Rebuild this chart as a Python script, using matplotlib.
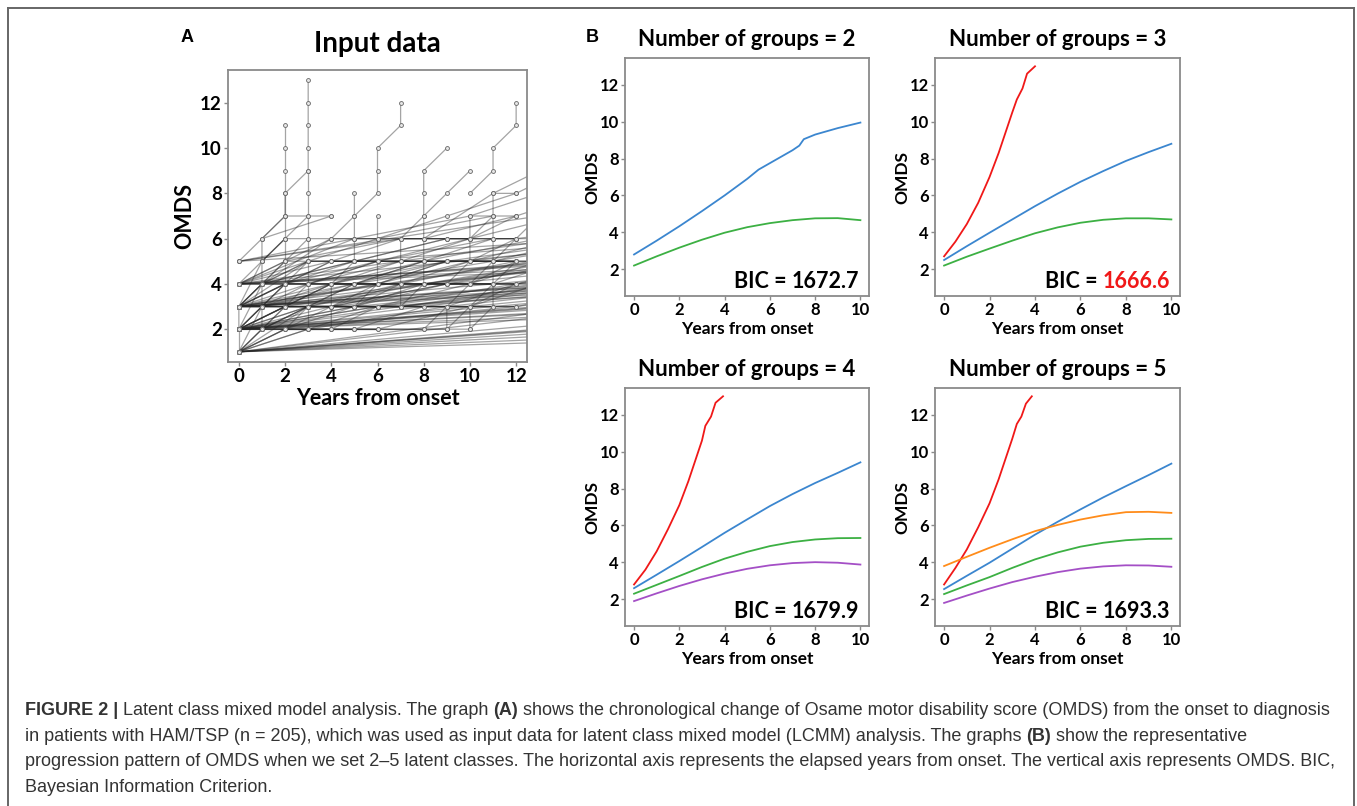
"""
Latent class mixed model figure: input OMDS trajectories (A) and group solutions (B).
"""
import matplotlib

matplotlib.use("Agg")
import matplotlib.pyplot as plt
from matplotlib.lines import Line2D

plt.rcParams["font.family"] = ["Lato", "DejaVu Sans"]
plt.rcParams["font.weight"] = "bold"

# ---- panel A: visits per patient as (years from onset, OMDS) ----
start_at_1 = [
    [(0, 1), (13, 2)], [(0, 1), (14, 2)], [(0, 1), (16, 2)], [(0, 1), (19, 2)],
    [(0, 1), (24, 2)], [(0, 1), (32, 2)], [(0, 1), (17, 3)], [(0, 1), (22, 3)],
    [(0, 1), (1, 2), (3, 2), (9, 3)], [(0, 1), (1, 3), (2, 4)],
    [(0, 1), (2, 2), (5, 3), (15, 4)], [(0, 1), (3, 2), (6, 2), (10, 3)],
    [(0, 1), (0, 2), (4, 2), (8, 2)], [(0, 1), (1, 2), (2, 3), (5, 3)],
    [(0, 1), (4, 3), (13, 4)], [(0, 1), (2, 2), (12, 3)],
    [(0, 1), (1, 2), (5, 2), (10, 2), (11, 3)], [(0, 1), (3, 3), (7, 3), (20, 4)],
    [(0, 1), (15, 3)], [(0, 1), (27, 3)], [(0, 1), (6, 3), (14, 4)],
]
start_at_2 = [
    [(0, 2), (13, 3)], [(0, 2), (15, 3)], [(0, 2), (18, 3)], [(0, 2), (24, 3)],
    [(0, 2), (30, 3)], [(0, 2), (16, 4)], [(0, 2), (20, 4)], [(0, 2), (27, 4)],
    [(0, 2), (1, 3), (2, 4), (3, 5)], [(0, 2), (1, 2), (2, 3), (4, 3), (6, 4)],
    [(0, 2), (2, 3), (5, 3), (8, 4), (14, 5)], [(0, 2), (1, 4), (2, 5)],
    [(0, 2), (3, 3), (6, 3), (9, 3), (12, 4)], [(0, 2), (2, 2), (4, 2), (6, 3), (9, 3)],
    [(0, 2), (5, 3), (10, 3), (13, 4)], [(0, 2), (1, 3), (4, 4), (7, 5)],
    [(0, 2), (3, 2), (5, 2), (8, 3), (11, 3)], [(0, 2), (6, 3), (12, 3), (17, 4)],
    [(0, 2), (2, 3), (3, 4), (5, 4), (8, 5)], [(0, 2), (0, 3), (1, 4), (3, 4)],
    [(0, 2), (4, 3), (9, 4), (15, 5)], [(0, 2), (7, 3), (14, 4)],
    [(0, 2), (1, 3), (3, 3), (6, 3), (10, 4), (12, 5)],
    [(0, 2), (5, 2), (9, 2), (10, 3), (12, 3)], [(0, 2), (4, 4), (8, 5), (13, 6)],
    [(0, 2), (1, 2), (3, 3), (7, 3), (16, 4)], [(0, 2), (2, 3), (6, 3), (21, 4)],
    [(0, 2), (14, 3)], [(0, 2), (19, 3)], [(0, 2), (22, 4)], [(0, 2), (18, 5)],
    [(0, 2), (3, 3), (8, 4), (13, 4)], [(0, 2), (5, 3), (9, 3), (12, 3), (20, 4)],
    [(0, 2), (2, 3), (4, 3), (7, 4), (15, 4)], [(0, 2), (1, 3), (6, 4), (11, 4)],
]
start_at_3 = [
    [(0, 3), (14, 4)], [(0, 3), (18, 4)], [(0, 3), (25, 4)], [(0, 3), (16, 5)],
    [(0, 3), (22, 5)], [(0, 3), (30, 5)], [(0, 3), (1, 4), (2, 5), (3, 6)],
    [(0, 3), (1, 3), (3, 4), (6, 4), (9, 5)],
    [(0, 3), (2, 4), (5, 4), (8, 5), (11, 5), (15, 6)],
    [(0, 3), (3, 3), (5, 4), (10, 4), (13, 5)], [(0, 3), (1, 5), (2, 6)],
    [(0, 3), (2, 3), (4, 4), (7, 4), (12, 5)], [(0, 3), (4, 5), (6, 5), (11, 6)],
    [(0, 3), (5, 3), (7, 4), (10, 5), (12, 6)], [(0, 3), (3, 5), (5, 5), (9, 6)],
    [(0, 3), (6, 4), (12, 4), (16, 5)], [(0, 3), (1, 4), (4, 4), (8, 4), (12, 4)],
    [(0, 3), (2, 4), (4, 5), (7, 6), (8, 7), (9, 8), (10, 9)],
    [(0, 3), (5, 4), (9, 4), (11, 4), (14, 5)], [(0, 3), (3, 4), (6, 5), (10, 6), (14, 7)],
    [(0, 3), (1, 3), (4, 3), (9, 4), (19, 5)], [(0, 3), (2, 3), (8, 4), (17, 5)],
    [(0, 3), (15, 4)], [(0, 3), (21, 4)], [(0, 3), (13, 5)], [(0, 3), (19, 6)],
    [(0, 3), (4, 4), (9, 5), (14, 5)], [(0, 3), (2, 4), (6, 4), (10, 5), (18, 6)],
    [(0, 3), (1, 4), (5, 5), (12, 5)], [(0, 3), (3, 3), (7, 4), (12, 4), (20, 5)],
]
start_at_4 = [
    [(0, 4), (15, 5)], [(0, 4), (20, 5)], [(0, 4), (14, 6)], [(0, 4), (19, 6)],
    [(0, 4), (1, 5), (2, 6), (3, 7)], [(0, 4), (2, 5), (5, 5), (9, 6), (12, 6)],
    [(0, 4), (1, 4), (3, 5), (6, 6), (11, 7)], [(0, 4), (4, 5), (8, 5), (12, 5)],
    [(0, 4), (3, 4), (7, 5), (10, 5), (14, 6)], [(0, 4), (5, 6), (10, 7), (13, 8)],
    [(0, 4), (2, 4), (6, 5), (13, 5)], [(0, 4), (1, 4), (5, 5), (18, 6)],
    [(0, 4), (25, 5)], [(0, 4), (16, 5)], [(0, 4), (3, 5), (9, 5), (16, 6)],
    [(0, 4), (2, 5), (7, 6), (12, 6)],
]
start_at_5 = [
    [(0, 5), (16, 6)], [(0, 5), (13, 7)], [(0, 5), (5, 6), (10, 6), (12, 7)],
    [(0, 5), (1, 6), (2, 7), (4, 7)], [(0, 5), (7, 6), (12, 6), (20, 7)],
]
start_later = [
    [(1, 2), (3, 3), (7, 3), (15, 4)], [(1, 3), (2, 4), (3, 4), (6, 5)],
    [(1, 4), (3, 5), (5, 5), (7, 5), (10, 6)],
    [(1, 5), (2, 6), (4, 6), (5, 7), (6, 8), (6, 9), (6, 10), (7, 11), (7, 12)],
    [(1, 6), (2, 7), (2, 8), (3, 9), (3, 10), (3, 11), (3, 12), (3, 13)],
    [(1, 2), (1, 3), (1, 4), (1, 5), (1, 6), (4, 7)],
    [(1, 4), (4, 6), (8, 6), (12, 7)], [(1, 3), (5, 4), (9, 5), (13, 5)],
    [(1, 3), (16, 5)], [(1, 4), (14, 5)], [(1, 2), (3, 3), (9, 3), (18, 4)],
    [(2, 2), (3, 3), (5, 3), (9, 4)],
    [(2, 3), (2, 4), (2, 5), (2, 6), (2, 7), (2, 8), (2, 9), (2, 10), (2, 11)],
    [(2, 5), (4, 6), (6, 6), (9, 7), (12, 8)], [(2, 2), (3, 2), (4, 2), (5, 2), (6, 2)],
    [(2, 4), (5, 5), (8, 5), (11, 6), (14, 6)], [(2, 3), (4, 4), (8, 4), (15, 5)],
    [(3, 2), (3, 3), (3, 4), (3, 5), (3, 6), (3, 7), (3, 8), (3, 9)],
    [(3, 4), (6, 4), (9, 5), (12, 5)], [(3, 3), (5, 4), (11, 5), (17, 6)],
    [(4, 2), (4, 3), (4, 4), (5, 5), (5, 6), (5, 7), (5, 8)],
    [(5, 3), (6, 4), (6, 5), (6, 6), (6, 7)],
    [(6, 3), (7, 3), (8, 4), (8, 5), (8, 6), (8, 7), (8, 8), (8, 9), (9, 10)],
    [(7, 3), (7, 4), (7, 5), (7, 6), (8, 6), (9, 6), (10, 6), (11, 7)],
    [(10, 8), (11, 9), (11, 10), (12, 11), (12, 12)],
    [(9, 2), (9, 3), (10, 4), (11, 5), (12, 6), (13, 7)],
    [(10, 2), (10, 3), (11, 4), (12, 5)], [(8, 2), (9, 3), (10, 3), (12, 4)],
    [(11, 3), (11, 4), (11, 5), (11, 6), (11, 7), (11, 8), (12, 8), (14, 9)],
    [(8, 6), (11, 8), (15, 10)], [(9, 4), (10, 5), (10, 6), (10, 7), (12, 7), (15, 8)],
]

# ---- panel B: fitted trajectories per number of groups ----
years = [0, 1, 2, 3, 4, 5, 6, 7, 8, 9, 10]

blue2_years = [0, 1, 2, 3, 4, 5, 5.5, 6, 7, 7.3, 7.5, 8, 9, 10]
blue2 = [2.8, 3.55, 4.33, 5.15, 6.0, 6.9, 7.4, 7.75, 8.45, 8.7, 9.05, 9.3, 9.65, 9.95]
green2 = [2.2, 2.7, 3.17, 3.6, 3.98, 4.28, 4.5, 4.66, 4.76, 4.77, 4.66]

red3_years = [0, 0.5, 1, 1.5, 2, 2.4, 2.7, 3.0, 3.2, 3.45, 3.65, 4.0]
red3 = [2.7, 3.5, 4.45, 5.6, 7.0, 8.3, 9.4, 10.5, 11.2, 11.8, 12.6, 13.0]
blue3 = [2.5, 3.25, 3.98, 4.7, 5.42, 6.1, 6.74, 7.32, 7.87, 8.35, 8.8]
green3 = [2.2, 2.68, 3.12, 3.55, 3.95, 4.27, 4.52, 4.68, 4.76, 4.76, 4.7]

red4_years = [0, 0.5, 1, 1.5, 2, 2.4, 2.7, 3.0, 3.15, 3.4, 3.6, 3.93]
red4 = [2.8, 3.6, 4.6, 5.8, 7.1, 8.4, 9.5, 10.6, 11.4, 11.9, 12.65, 13.0]
blue4 = [2.6, 3.33, 4.07, 4.83, 5.6, 6.33, 7.05, 7.7, 8.3, 8.85, 9.42]
green4 = [2.3, 2.78, 3.26, 3.75, 4.2, 4.57, 4.88, 5.1, 5.24, 5.31, 5.32]
purple4 = [1.9, 2.32, 2.72, 3.08, 3.39, 3.65, 3.84, 3.96, 4.01, 3.98, 3.88]

red5_years = [0, 0.5, 1, 1.5, 2, 2.4, 2.7, 3.0, 3.2, 3.4, 3.6, 3.86]
red5 = [2.8, 3.7, 4.7, 5.9, 7.2, 8.5, 9.6, 10.7, 11.5, 11.9, 12.6, 13.0]
blue5 = [2.55, 3.27, 3.98, 4.74, 5.5, 6.2, 6.87, 7.52, 8.13, 8.73, 9.35]
orange5 = [3.8, 4.3, 4.79, 5.25, 5.69, 6.03, 6.32, 6.55, 6.72, 6.74, 6.68]
green5 = [2.28, 2.75, 3.2, 3.7, 4.16, 4.54, 4.85, 5.06, 5.2, 5.27, 5.28]
purple5 = [1.8, 2.2, 2.58, 2.93, 3.22, 3.47, 3.66, 3.78, 3.84, 3.83, 3.76]

bic_values = ["1672.7", "1666.6", "1679.9", "1693.3"]

RED, BLUE, GREEN = "#f01818", "#3b86cf", "#3cb043"
ORANGE, PURPLE = "#ff8c1a", "#a44fc6"
SPINE = "#8a8a8a"

caption_lines = [
    [("FIGURE 2 |", "bold"),
     ("Latent class mixed model analysis. The graph", "normal"), ("(A)", "bold"),
     ("shows the chronological change of Osame motor disability score (OMDS) "
      "from the onset to diagnosis", "normal")],
    [("in patients with HAM/TSP (n = 205), which was used as input data for latent "
      "class mixed model (LCMM) analysis. The graphs", "normal"), ("(B)", "bold"),
     ("show the representative", "normal")],
    [("progression pattern of OMDS when we set 2\u20135 latent classes. The horizontal "
      "axis represents the elapsed years from onset. The vertical axis represents "
      "OMDS. BIC,", "normal")],
    [("Bayesian Information Criterion.", "normal")],
]

W, H = 1357, 806


def px_axes(fig, left, top, right, bottom):
    """Add an axes given its pixel box (origin top-left)."""
    return fig.add_axes([left / W, 1 - bottom / H, (right - left) / W, (bottom - top) / H])


def style_axes(ax, xmin, xmax, xticks, tick_size, label_size, ylab_x, xlab_y):
    for sp in ax.spines.values():
        sp.set_color(SPINE)
        sp.set_linewidth(1.3)
    ax.set_xlim(xmin, xmax)
    ax.set_ylim(0.55, 13.45)
    ax.set_xticks(xticks)
    ax.set_yticks([2, 4, 6, 8, 10, 12])
    ax.tick_params(labelsize=tick_size, length=3, width=1, color=SPINE, pad=1.5)
    ax.set_xlabel("Years from onset", fontsize=label_size, fontweight="bold")
    ax.set_ylabel("OMDS", fontsize=label_size, fontweight="bold")
    ax.yaxis.set_label_coords(ylab_x, 0.5)
    ax.xaxis.set_label_coords(0.5, xlab_y)


def plot_input(ax, patients):
    """Spaghetti plot of all patients' OMDS visits."""
    for visits in patients:
        xs = [v[0] for v in visits]
        ys = [v[1] for v in visits]
        ax.plot(xs, ys, color="0.15", alpha=0.42, lw=0.9, zorder=2)
        ax.plot(xs, ys, ls="none", marker="o", ms=2.8, mew=0.6,
                mec="0.4", mfc="0.9", zorder=3)
    ax.set_title("Input data", fontsize=20, fontweight="bold", pad=13)


def plot_groups(ax, curves, n, bic, bic_color="k"):
    """Draw one latent class solution."""
    for xs, ys, color in curves:
        ax.plot(xs, ys, color=color, lw=1.3)
    ax.set_title(f"Number of groups = {n}", fontsize=16, fontweight="bold", pad=9)
    num = ax.text(0.96, 0.035, bic, transform=ax.transAxes, ha="right",
                  va="baseline", fontsize=15.5, fontweight="bold", color=bic_color)
    ax.annotate("BIC = ", xy=(0, 0), xycoords=num, ha="right", va="bottom",
                fontsize=15.5, fontweight="bold", color="k")


def caption_line(fig, renderer, x, y, pieces):
    """Write one caption line made of normal / bold pieces."""
    last = None
    for text, weight in pieces:
        kw = dict(fontsize=13, fontweight=weight, color="#333333",
                  family="Liberation Sans", ha="left", va="baseline")
        if last is None:
            pos = x / W
        else:
            pos = (last.get_window_extent(renderer).x1 + 4.8) / W
        last = fig.text(pos, 1 - y / H, text, **kw)
        last.draw(renderer)


fig = plt.figure(figsize=(W / 100, H / 100), dpi=100)

patients = start_at_1 + start_at_2 + start_at_3 + start_at_4 + start_at_5 + start_later
ax_a = px_axes(fig, 228, 70, 527, 362)
plot_input(ax_a, patients)
style_axes(ax_a, -0.47, 12.47, range(0, 13, 2), 13.5, 15.5, -0.11, -0.09)

ax2 = px_axes(fig, 625, 58, 869, 296)
plot_groups(ax2, [(blue2_years, blue2, BLUE), (years, green2, GREEN)], 2, bic_values[0])
ax3 = px_axes(fig, 935, 58, 1180, 296)
plot_groups(ax3, [(red3_years, red3, RED), (years, blue3, BLUE), (years, green3, GREEN)],
            3, bic_values[1], bic_color=RED)
ax4 = px_axes(fig, 625, 388, 869, 626)
plot_groups(ax4, [(red4_years, red4, RED), (years, blue4, BLUE), (years, green4, GREEN),
                  (years, purple4, PURPLE)], 4, bic_values[2])
ax5 = px_axes(fig, 935, 388, 1180, 626)
plot_groups(ax5, [(red5_years, red5, RED), (years, blue5, BLUE), (years, orange5, ORANGE),
                  (years, green5, GREEN), (years, purple5, PURPLE)], 5, bic_values[3])
for ax in (ax2, ax3, ax4, ax5):
    style_axes(ax, -0.4, 10.38, range(0, 11, 2), 12, 12.5, -0.1, -0.105)

# panel letters
fig.text(181 / W, 1 - 37 / H, "A", ha="left", va="center", fontsize=13,
         fontweight="bold", family="Liberation Sans")
fig.text(586 / W, 1 - 37 / H, "B", ha="left", va="center", fontsize=13,
         fontweight="bold", family="Liberation Sans")

# page frame
for xs, ys in (([8, 1354], [8, 8]), ([8, 8], [8, 806]), ([1354, 1354], [8, 806])):
    fig.add_artist(Line2D([x / W for x in xs], [1 - y / H for y in ys],
                          color="#666666", lw=1.4))

renderer = fig.canvas.get_renderer()
for i, pieces in enumerate(caption_lines):
    caption_line(fig, renderer, 25, 715 + 25.7 * i, pieces)

fig.savefig("out.png", dpi=100)
